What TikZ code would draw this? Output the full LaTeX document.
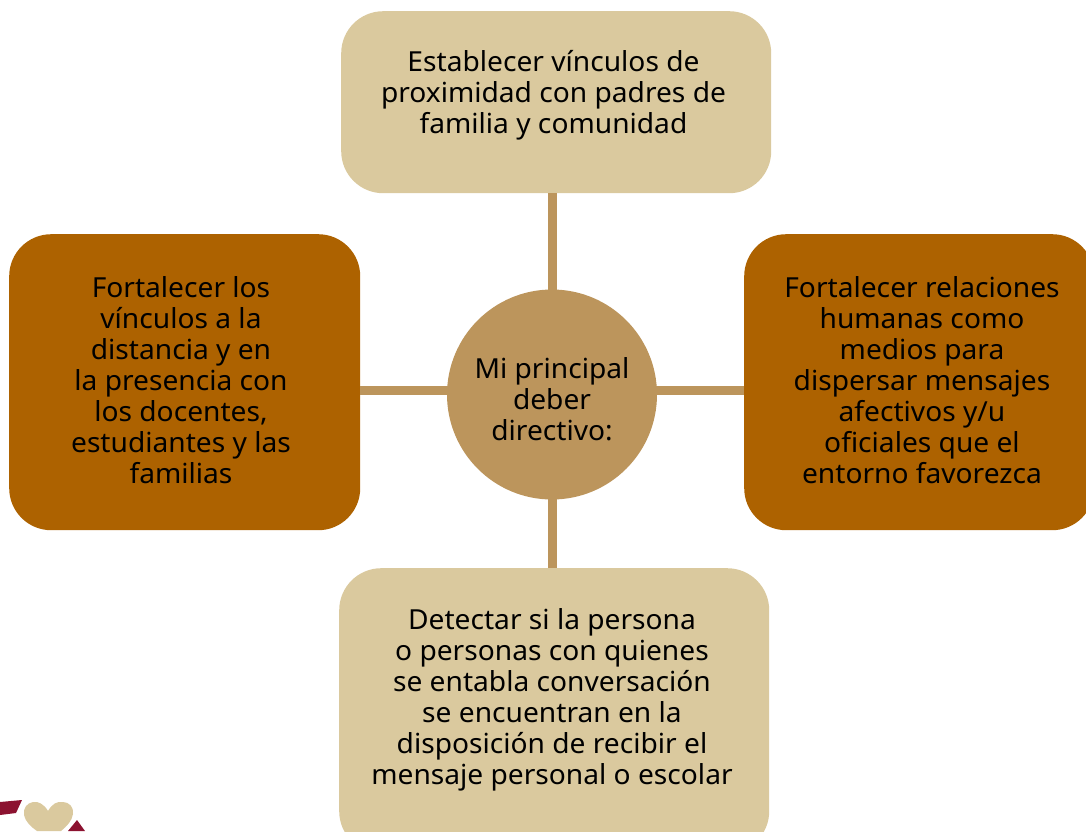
\documentclass[tikz,border=0pt]{standalone}
\usepackage{fontspec}
\setmainfont[FakeStretch=1.02]{Noto Sans}
\definecolor{lightbox}{HTML}{DAC99E}
\definecolor{darkbox}{HTML}{AD6200}
\definecolor{hub}{HTML}{BC955C}
\definecolor{logored}{HTML}{8C1230}
\tikzset{
  x=1pt,y=-1pt,
  boxbase/.style={rounded corners=42pt,inner sep=0pt,anchor=north west},
  lightcard/.style={boxbase,fill=lightbox},
  darkcard/.style={boxbase,fill=darkbox},
  hubdisc/.style={circle,fill=hub,inner sep=0pt,minimum size=210pt},
  link/.style={draw=hub,line width=9pt},
  caption/.style={align=center,inner sep=0pt,text=black,font=\fontsize{27.6}{31}\selectfont},
}
\begin{document}
\begin{tikzpicture}
\useasboundingbox (0,0) rectangle (1086,831);
\clip (0,0) rectangle (1086,831);
% logo fragment
\fill[logored] (0,802) -- (22,800) -- (16,813) -- (0,815) -- cycle;
\fill[logored] (77,820) -- (85,831) -- (68,831) -- cycle;
\fill[lightbox] (48,811) .. controls (44,804) and (38,801) .. (33,802) .. controls (27,803) and (23,808) .. (24,815) .. controls (25,821) and (31,827) .. (37,831) -- (61,831) .. controls (67,826) and (72,821) .. (73,814) .. controls (74,807) and (69,802) .. (63,802) .. controls (57,801) and (52,804) .. (48,811) -- cycle;
% hub and cards
\node[lightcard,minimum width=430pt,minimum height=182pt] (top) at (341,11) {};
\node[darkcard,minimum width=351pt,minimum height=296pt] (left) at (9,234) {};
\node[darkcard,minimum width=350pt,minimum height=296pt] (right) at (744,234) {};
\node[lightcard,minimum width=430pt,minimum height=285pt] (bottom) at (339,568) {};
\node[hubdisc] (hubnode) at (552,394.5) {};
\coordinate (htop) at (552,193);
\coordinate (hbot) at (552,568);
\coordinate (hl) at (360,390);
\coordinate (hr) at (744,390);
\coordinate (cT) at (552,295);
\coordinate (cB) at (552,495);
\coordinate (cL) at (450,390);
\coordinate (cR) at (654,390);
\draw[link] (htop) -- (cT);
\draw[link] (hbot) -- (cB);
\draw[link] (hl) -- (cL);
\draw[link] (hr) -- (cR);
% captions
\node[caption] (tTop) at (553.5,95.5) {Establecer vínculos de\\proximidad con padres de\\familia y comunidad};
\node[caption] (tLeft) at (181,380) {Fortalecer los\\vínculos a la\\distancia y en\\la presencia con\\los docentes,\\estudiantes y las\\familias};
\node[caption] (tRight) at (922,380) {Fortalecer relaciones\\humanas como\\medios para\\dispersar mensajes\\afectivos y/u\\oficiales que el\\entorno favorezca};
\node[caption] (tBottom) at (552,700) {Detectar si la persona\\o personas con quienes\\se entabla conversación\\se encuentran en la\\disposición de recibir el\\mensaje personal o escolar};
\node[caption] (tHub) at (552,399) {Mi principal\\deber\\directivo:};
\end{tikzpicture}
\end{document}
